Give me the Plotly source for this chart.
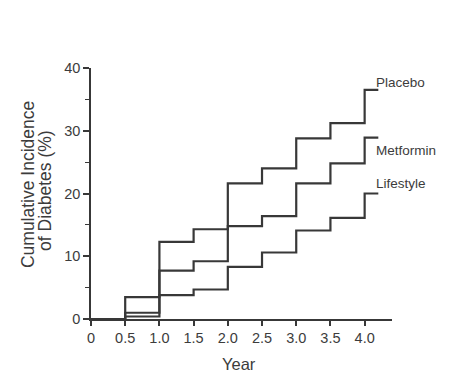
import plotly.graph_objects as go

years = [0, 0.5, 1.0, 1.5, 2.0, 2.5, 3.0, 3.5, 4.0, 4.2]
placebo = [0, 3.5, 12.3, 14.3, 21.6, 24.0, 28.8, 31.2, 36.5, 36.5]
metformin = [0, 1.0, 7.7, 9.2, 14.8, 16.4, 21.6, 24.8, 28.9, 28.9]
lifestyle = [0, 0.4, 3.8, 4.7, 8.3, 10.6, 14.1, 16.1, 20.0, 20.0]
series_names = ["Placebo", "Metformin", "Lifestyle"]
label_y = [37.7, 26.8, 21.6]
x_ticks = [0, 0.5, 1.0, 1.5, 2.0, 2.5, 3.0, 3.5, 4.0]
x_tick_text = ["0", "0.5", "1.0", "1.5", "2.0", "2.5", "3.0", "3.5", "4.0"]
y_ticks = [0, 10, 20, 30, 40]
y_title_lines = ["Cumulative Incidence", "of Diabetes (%)"]
x_title = "Year"

LINE = "#383838"
TEXT = "#3c3c3c"
BG = "#ffffff"
FONT = "Liberation Sans, Arial, sans-serif"

fig = go.Figure()
for name, vals in zip(series_names, [placebo, metformin, lifestyle]):
    fig.add_trace(go.Scatter(x=years, y=vals, mode="lines", name=name,
                             line=dict(color=LINE, width=2.2, shape="hv"),
                             showlegend=False, hoverinfo="skip"))

for name, ly in zip(series_names, label_y):
    fig.add_annotation(x=4.13, y=ly, text=name, showarrow=False, xanchor="left",
                       yanchor="middle", font=dict(family=FONT, size=13.5, color=TEXT))

for txt, px, py in zip(y_title_lines, [-0.209, -0.153], [0.534, 0.514]):
    fig.add_annotation(xref="paper", yref="paper", x=px, y=py, text=txt, textangle=-90,
                       xanchor="center", yanchor="middle", showarrow=False,
                       font=dict(family=FONT, size=17.5, color=TEXT))

fig.add_annotation(xref="paper", yref="paper", x=0.493, y=-0.179, text=x_title,
                   showarrow=False, xanchor="center", yanchor="middle",
                   font=dict(family=FONT, size=16.5, color=TEXT))

fig.update_layout(
    width=448, height=375,
    margin=dict(l=83, r=64, t=60, b=64),
    paper_bgcolor=BG, plot_bgcolor=BG,
    font=dict(family=FONT, color=TEXT),
    xaxis=dict(range=[0, 4.4], tickvals=x_ticks, ticktext=x_tick_text,
               showgrid=False, zeroline=False, showline=True, linecolor=LINE, linewidth=1.5,
               ticks="outside", ticklen=5, tickwidth=1.5, tickcolor=LINE,
               tickfont=dict(size=14.5, color=TEXT)),
    yaxis=dict(range=[0, 40], tickvals=y_ticks,
               showgrid=False, zeroline=False, showline=True, linecolor=LINE, linewidth=1.5,
               ticks="outside", ticklen=6, tickwidth=1.5, tickcolor=LINE,
               minor=dict(tickvals=[5, 15, 25, 35], ticks="outside", ticklen=4, tickcolor=LINE, tickwidth=1.2),
               tickfont=dict(size=14.5, color=TEXT)),
)

fig.write_html("out.html")
